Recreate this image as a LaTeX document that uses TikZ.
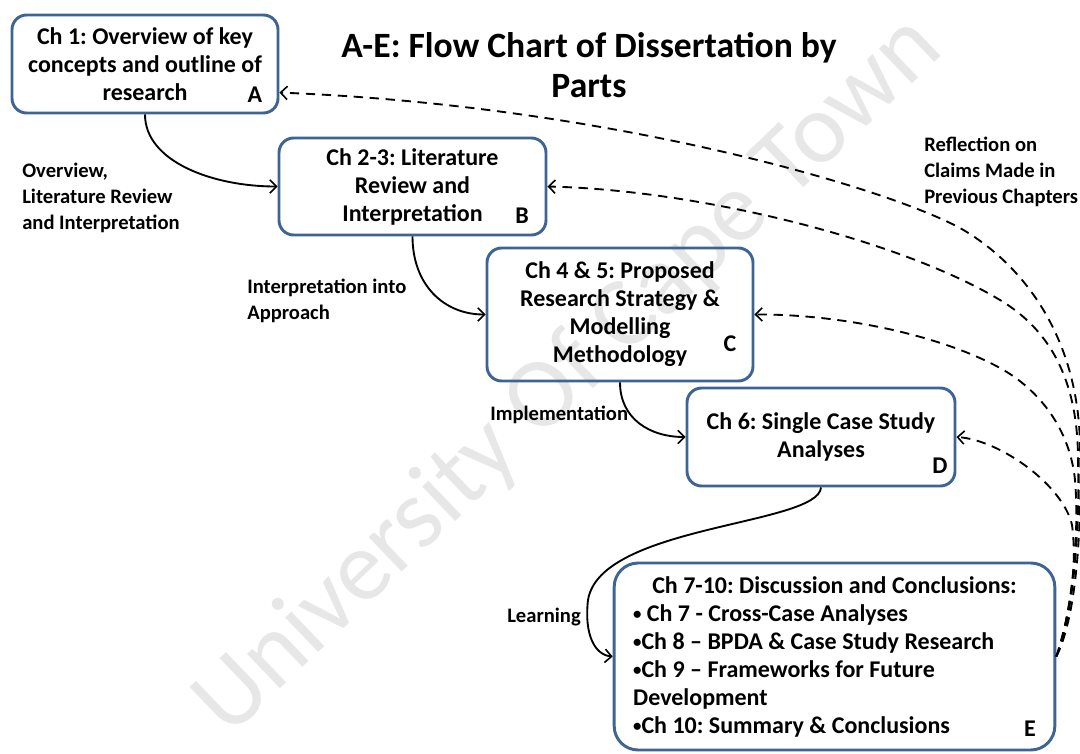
\documentclass[tikz,border=0pt]{standalone}
\usepackage{fontspec}
\setmainfont{Carlito}
\usetikzlibrary{arrows.meta}
\definecolor{boxline}{RGB}{62,100,148}
\definecolor{wmark}{RGB}{231,231,231}
\newcommand{\bul}{\raisebox{0.12ex}{\scalebox{0.7}{•}}}
\begin{document}
\frenchspacing
\begin{tikzpicture}[x=0.75pt,y=-0.75pt,
  chapter/.style={draw=boxline,line width=2.2pt,rounded corners=11pt,
    font=\bfseries\fontsize{18}{21}\selectfont,align=flush center,inner sep=0pt},
  tag/.style={font=\bfseries\fontsize{18}{21}\selectfont,inner sep=0pt},
  lbl/.style={font=\bfseries\fontsize{15.45}{19.5}\selectfont,align=flush left,
    inner sep=0pt,anchor=west},
  flow/.style={line width=1.4pt,-{Straight Barb[length=5pt,width=10pt,line width=1.2pt]}},
  refl/.style={line width=1.4pt,dash pattern=on 7pt off 5pt,
    -{Straight Barb[length=5pt,width=10pt,line width=1.2pt]}}]
  \useasboundingbox (0,0) rectangle (1080,753);

  % watermark
  \node[rotate=43.8,text=wmark,font=\fontsize{75}{75}\selectfont,inner sep=0pt]
    (wm) at (569,376) {University Of Cape Town};

  % title
  \node[font=\bfseries\fontsize{26.7}{30}\selectfont,align=flush center,inner sep=0pt]
    (title) at (589,65) {A-E: Flow Chart of Dissertation by\\Parts};

  % chapter boxes
  \node[chapter,minimum width=199.5pt,minimum height=73.5pt] (A) at (145,64)
    {Ch 1: Overview of key\\concepts and outline of\\research};
  \node[chapter,minimum width=200.25pt,minimum height=72.75pt] (B) at (412.5,186.5)
    {Ch 2-3: Literature\\Review and\\Interpretation};
  \node[chapter,minimum width=199.5pt,minimum height=99.75pt] (C) at (620,314.5)
    {Ch 4 \& 5: Proposed\\Research Strategy \&\\Modelling\\Methodology};
  \node[chapter,minimum width=201pt,minimum height=73.5pt] (D) at (821,437)
    {Ch 6: Single Case Study\\Analyses};
  \node[chapter,rounded corners=18pt,align=flush left,text width=302pt,
    inner xsep=14.25pt,minimum height=140.25pt] (E) at (834.5,656.5)
    {\null\hfill Ch 7-10: Discussion and Conclusions:\hfill\null\\
     \bul{} Ch 7 - Cross-Case Analyses\\
     \bul Ch 8 – BPDA \& Case Study Research\\
     \bul Ch 9 – Frameworks for Future\\
     Development\\
     \bul Ch 10: Summary \& Conclusions};

  % part letters
  \node[tag] (tA) at (255,95) {A};
  \node[tag] (tB) at (522,216) {B};
  \node[tag] (tC) at (730,344) {C};
  \node[tag] (tD) at (940,466) {D};
  \node[tag] (tE) at (1030,729) {E};

  % connector labels
  \node[lbl] (l1) at (22,198) {Overview,\\Literature Review\\and Interpretation};
  \node[lbl] (l2) at (247,301) {Interpretation into\\Approach};
  \node[lbl] (l3) at (490,415) {Implementation};
  \node[lbl] (l4) at (507,617) {Learning};
  \node[lbl] (l5) at (924,172) {Reflection on\\Claims Made in\\Previous Chapters};

  % forward flow
  \draw[flow] (A.south) .. controls +(0,47) and +(-65,0) .. (B.west);
  \draw[flow] (B.south) .. controls +(0,48) and +(-42,0) .. (C.west);
  \draw[flow] (C.south) .. controls +(0,36) and +(-36,0) .. (D.west);
  \coordinate (bend) at (588,600);
  \draw[flow] (D.south) .. controls +(-3,38) and (600,525) .. (bend)
    .. controls (584,635) and (595,655) .. (E.west);

  % reflection loops back to earlier parts
  \coordinate (rA) at (1080,450);
  \coordinate (wA) at (960,228);
  \coordinate (rB) at (1078,460);
  \coordinate (wB) at (1000,300);
  \coordinate (rC) at (1075,480);
  \coordinate (wC) at (1000,368);
  \coordinate (rD) at (1072,525);
  \draw[refl] (E.east) .. controls (1075,620) and (1082,540) .. (rA)
    .. controls (1080,340) and (1025,265) .. (wA)
    .. controls (880,185) and (600,105) .. (A.-12);
  \draw[refl] (E.east) .. controls (1072,620) and (1080,540) .. (rB)
    .. controls (1078,380) and (1050,330) .. (wB)
    .. controls (900,240) and (700,190) .. (B.east);
  \draw[refl] (E.east) .. controls (1070,620) and (1080,540) .. (rC)
    .. controls (1070,430) and (1040,390) .. (wC)
    .. controls (940,335) and (840,314) .. (C.east);
  \draw[refl] (E.east) .. controls (1068,620) and (1078,570) .. (rD)
    .. controls (1063,485) and (1000,440) .. (D.east);
\end{tikzpicture}
\end{document}
